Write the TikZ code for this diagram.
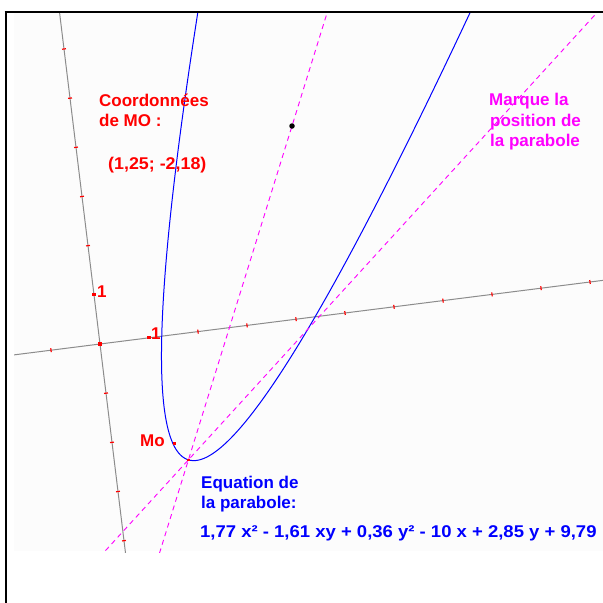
\documentclass[tikz,border=0pt]{standalone}
\usepackage{fontspec}
\setmainfont{Liberation Sans}
\usetikzlibrary{calc}
\definecolor{axgray}{RGB}{140,140,140}
\definecolor{canvasbg}{RGB}{252,252,252}
\definecolor{pmag}{RGB}{255,0,255}
\definecolor{pred}{RGB}{255,0,0}
\definecolor{pblue}{RGB}{0,0,255}
\begin{document}
\begin{tikzpicture}[x=1pt,y=-1pt,
  axisline/.style={draw=axgray, line width=1pt},
  tickmark/.style={draw=pred, line width=1.2pt},
  dashline/.style={draw=pmag, line width=0.9pt, dash pattern=on 5pt off 4pt},
  curveline/.style={draw=pblue, line width=1pt},
  framerule/.style={draw=black, line width=2.4pt},
  dot/.style={rectangle, fill=pred, inner sep=0pt, minimum size=3.2pt},
  txt/.style={anchor=base west, inner sep=0pt, font=\bfseries\fontsize{17}{21}\selectfont},
  redtxt/.style={txt, text=pred},
  magtxt/.style={txt, text=pmag},
  bluetxt/.style={txt, text=pblue}]
\useasboundingbox (0,0) rectangle (603,603);
\fill[white] (0,0) rectangle (603,603);
\fill[canvasbg] (14,13) rectangle (603,551);
% frame
\coordinate (FTL) at (4.5,12);
\coordinate (FTR) at (603,12);
\coordinate (FBL) at (5.5,603);
\draw[framerule] (FTL) -- (FTR);
\draw[draw=black, line width=2pt] (5.5,11) -- (FBL);
\begin{scope}
\clip (14,13.3) rectangle (603,552);
\begin{scope}[shift={(100pt,-344pt)}, x={(49pt,6.2pt)}, y={(-6pt,49.17pt)}]
  % axes
  \coordinate (XA) at (-2,0);
  \coordinate (XB) at (11,0);
  \coordinate (YA) at (0,-5);
  \coordinate (YB) at (0,8);
  \draw[axisline] (XA) -- (XB);
  \draw[axisline] (YA) -- (YB);
  \foreach \k in {-1,2,3,...,10} {\draw[tickmark] (\k,-0.04) -- (\k,0.04);}
  \foreach \k in {-4,-3,-2,-1,2,3,4,5,6} {\draw[tickmark] (-0.04,\k) -- (0.04,\k);}
  % parabola 1,77 x^2 - 1,61 xy + 0,36 y^2 - 10 x + 2,85 y + 9,79 = 0
  \draw[curveline] plot[domain=-3:1.5, samples=260, variable=\t, smooth]
    ({1.1334+\t*\t}, {(1.61*(1.1334+\t*\t) - 2.85 + \t*sqrt(0.0433*(1.1334+\t*\t+121.75)))/0.72});
  \coordinate (V) at (1.4934,-2.5439);
  \node[dot] (O) at (0,0) {};
  \node[dot] (U) at (1,0) {};
  \node[dot] (W) at (0,1) {};
  \node[dot] (Mo) at (1.25,-2.18) {};
\end{scope}
\coordinate (F) at (292,126);
\coordinate (T2) at (593,17);
\draw[dashline] ($(V)!-0.28!(F)$) -- ($(V)!1.45!(F)$);
\draw[dashline] ($(V)!-0.22!(T2)$) -- ($(V)!1.05!(T2)$);
\end{scope}
\node[dot, minimum size=2.6pt] (Vd) at (V) {};
\node[circle, fill=black, inner sep=0pt, minimum size=5.5pt] (Fd) at (F) {};
% labels
\node[redtxt] (l1) at (97,297.5) {1};
\node[redtxt] (l2) at (151,339.5) {1};
\node[redtxt] (lmo) at (140,446.5) {Mo};
\node[redtxt] (c1) at (99,106) {Coordonnées};
\node[redtxt] (c2) at (99,126.5) {de MO :};
\node[redtxt] (c3) at (108,169.5) {\scalebox{1.05}[1]{(1,25; -2,18)}};
\node[magtxt] (m1) at (489,105) {Marque la};
\node[magtxt] (m2) at (490,126) {position de};
\node[magtxt] (m3) at (490,146.5) {la parabole};
\node[bluetxt] (e1) at (201,488) {Equation de};
\node[bluetxt] (e2) at (201,508) {la parabole:};
\node[bluetxt] (e3) at (200,537) {\scalebox{1.088}[1]{1,77 x² - 1,61 xy + 0,36 y² - 10 x + 2,85 y + 9,79}};
\end{tikzpicture}
\end{document}
